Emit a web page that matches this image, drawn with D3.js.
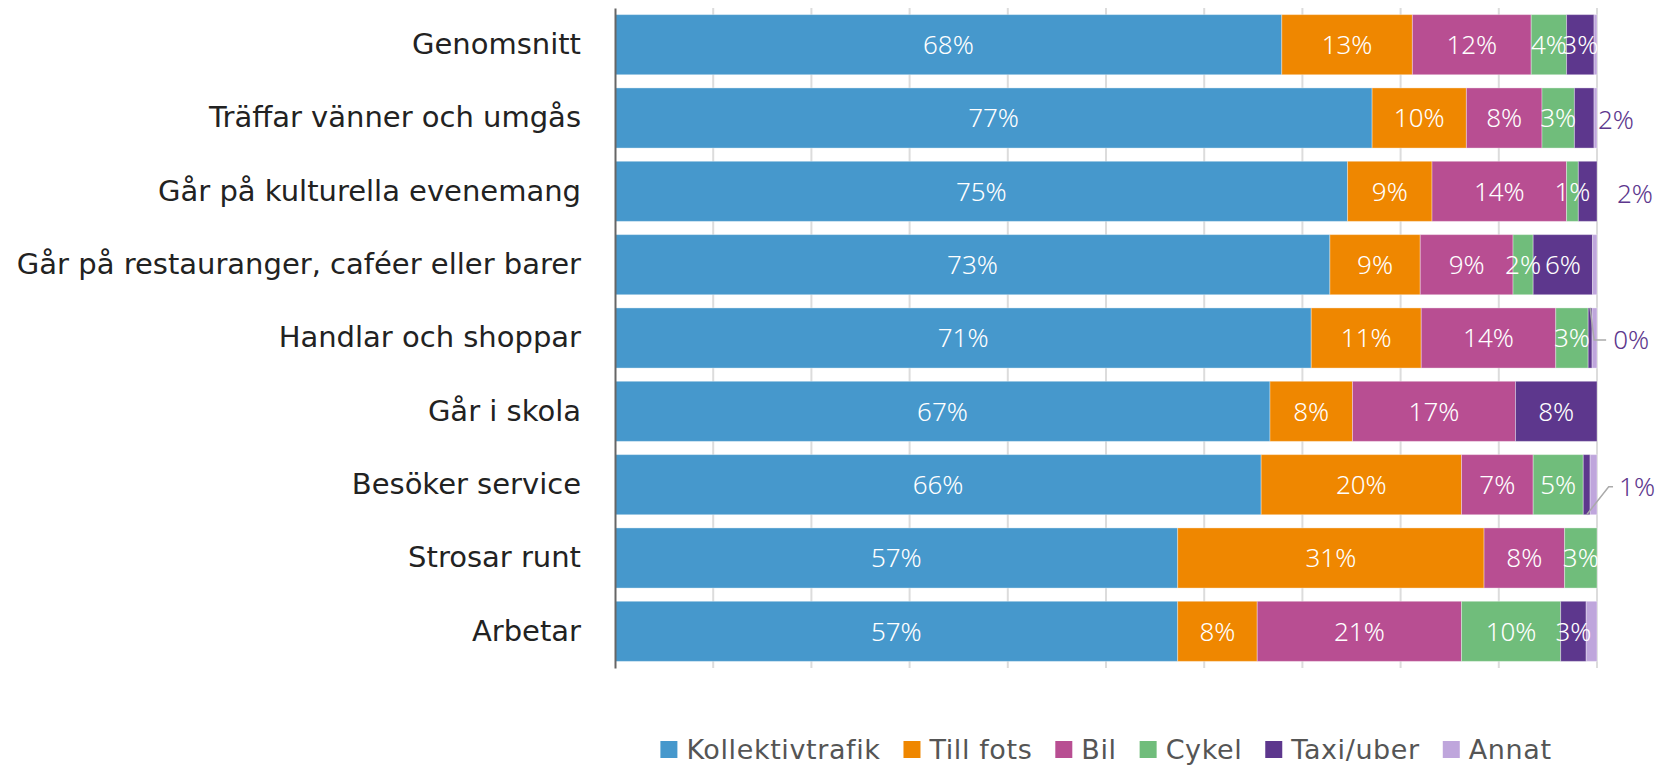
<!DOCTYPE html>
<html>
<head>
<meta charset="utf-8">
<script src="https://cdn.jsdelivr.net/npm/d3@7"></script>
<style>
  body { margin: 0; background: #fff; }
  svg { display: block; font-family: "Noto Sans", sans-serif; }
</style>
</head>
<body>
<svg id="chart" width="1658" height="766"></svg>
<script>
// categories (top to bottom)
var categories = [
  'Genomsnitt',
  'Träffar vänner och umgås',
  'Går på kulturella evenemang',
  'Går på restauranger, caféer eller barer',
  'Handlar och shoppar',
  'Går i skola',
  'Besöker service',
  'Strosar runt',
  'Arbetar'
];
var seriesNames = ['Kollektivtrafik', 'Till fots', 'Bil', 'Cykel', 'Taxi/uber', 'Annat'];
var seriesColors = ['#4698cc', '#ef8700', '#b84e92', '#70bd7b', '#5d378d', '#bfa6dc'];

// percent per category, in category order
var kollektivtrafik = [67.9, 77.1, 74.6, 72.8, 70.9, 66.7, 65.8, 57.3, 57.3];
var tillFots        = [13.3,  9.6,  8.6,  9.2, 11.2,  8.4, 20.4, 31.2,  8.1];
var bil             = [12.1,  7.7, 13.7,  9.45, 13.7, 16.6, 7.3,  8.2, 20.8];
var cykel           = [ 3.6,  3.3,  1.2,  2.05, 3.3,  0,    5.1,  3.3, 10.1];
var taxiUber        = [ 2.8,  2.0,  1.9,  6.05, 0.4,  8.3,  0.7,  0,    2.6];
var annat           = [ 0.3,  0.3,  0,    0.45, 0.5,  0,    0.7,  0,    1.1];

var xTicks = [0, 10, 20, 30, 40, 50, 60, 70, 80, 90, 100];

var seriesValues = [kollektivtrafik, tillFots, bil, cykel, taxiUber, annat];

var rows = categories.map(function(c, i) {
  var r = { category: c };
  seriesNames.forEach(function(s, j) { r[s] = seriesValues[j][i]; });
  return r;
});

var svg = d3.select('#chart');
var mLeft = 615, mRight = 1597, mTop = 8, mBottom = 668;
var wideFont = '"DejaVu Sans", sans-serif';

var x = d3.scaleLinear().domain([0, 100]).range([mLeft, mRight]);
var y = d3.scaleBand().domain(categories).range([mTop, mBottom])
  .paddingInner(0.18).paddingOuter(0.09);
var color = d3.scaleOrdinal().domain(seriesNames).range(seriesColors);

// grid
svg.append('g').selectAll('line').data(xTicks.slice(1)).join('line')
  .attr('x1', function(d) { return x(d); }).attr('x2', function(d) { return x(d); })
  .attr('y1', mTop).attr('y2', mBottom)
  .attr('stroke', '#dcdcdc').attr('stroke-width', 2);

var stacked = d3.stack().keys(seriesNames)(rows);

var layers = svg.append('g').selectAll('g').data(stacked).join('g')
  .attr('fill', function(d) { return color(d.key); });

layers.selectAll('rect').data(function(d) { return d; }).join('rect')
  .attr('x', function(d) { return x(d[0]); })
  .attr('y', function(d) { return y(d.data.category); })
  .attr('width', function(d) { return Math.max(0, x(d[1]) - x(d[0])); })
  .attr('height', y.bandwidth())
  .attr('stroke', 'rgba(255,255,255,0.35)').attr('stroke-width', 1);

// y axis
var yAxis = svg.append('g').attr('transform', 'translate(' + mLeft + ',0)')
  .call(d3.axisLeft(y).tickSize(0).tickPadding(34));
yAxis.select('.domain').attr('stroke', '#666').attr('stroke-width', 2);
yAxis.selectAll('text').attr('font-size', 29).attr('fill', '#222')
  .attr('font-family', wideFont);

// labels inside segments
var labels = [];
stacked.forEach(function(layer) {
  layer.forEach(function(d) {
    var v = d[1] - d[0];
    if (layer.key === 'Annat' || v <= 0) return;
    labels.push({ key: layer.key, cat: d.data.category, v: v, x0: d[0], x1: d[1] });
  });
});

function pct(v) { return Math.round(v) + '%'; }

var inside = labels.filter(function(d) { return !(d.key === 'Taxi/uber' && d.v < 2.5); });
var outside = labels.filter(function(d) { return d.key === 'Taxi/uber' && d.v < 2.5; });

svg.append('g').selectAll('text').data(inside).join('text')
  .attr('x', function(d) { return x((d.x0 + d.x1) / 2); })
  .attr('y', function(d) { return y(d.cat) + y.bandwidth() / 2; })
  .attr('dy', '0.36em')
  .attr('text-anchor', 'middle')
  .attr('fill', '#fff').attr('font-size', 26).attr('font-weight', 300)
  .text(function(d) { return pct(d.v); });

// outside labels: small taxi/uber segments
var callout = svg.append('g');
outside.forEach(function(d) {
  var cy = y(d.cat) + y.bandwidth() / 2;
  var cx = x((d.x0 + d.x1) / 2);
  var t = callout.append('text')
    .attr('y', cy + 2).attr('dy', '0.36em')
    .attr('fill', '#5d378d').attr('font-size', 26).attr('font-weight', 300)
    .text(pct(d.v));
  var w = t.node().getComputedTextLength();
  var tx;
  if (d.v >= 1.5) {
    tx = x(100) + (d.cat === 'Går på kulturella evenemang' ? 20 : 1);
  } else {
    var fromTop = d.cat === 'Handlar och shoppar';
    var ey = cy + 2;
    var sy = fromTop ? y(d.cat) : y(d.cat) + y.bandwidth();
    var ex = fromTop ? cx + 4 : cx + 22;
    var hx = fromTop ? ex + 12 : ex + 10;
    tx = Math.min(hx + 7, 1655 - w);
    hx = Math.min(hx, tx - 6);
    callout.insert('path', 'text')
      .attr('d', d3.line()([[cx, sy], [ex, ey], [hx, ey]]))
      .attr('fill', 'none').attr('stroke', '#aaa').attr('stroke-width', 1.5);
  }
  t.attr('x', tx);
});

// legend
var legend = svg.append('g');
var items = legend.selectAll('g').data(seriesNames).join('g');
items.append('rect').attr('width', 17).attr('height', 17).attr('y', -9)
  .attr('fill', function(d) { return color(d); });
items.append('text').attr('x', 26).attr('dy', '0.34em')
  .attr('font-size', 27).attr('letter-spacing', 0.6)
  .attr('fill', '#555').attr('font-family', wideFont)
  .text(function(d) { return d; });
var pos = 0;
items.each(function(d) {
  var w = d3.select(this).select('text').node().getComputedTextLength();
  d3.select(this).attr('data-off', pos);
  pos += 26 + w + 23;
});
var total = pos - 23;
var startX = (mLeft + mRight) / 2 - total / 2;
items.attr('transform', function() {
  return 'translate(' + (startX + (+this.getAttribute('data-off'))) + ',750)';
});
</script>
</body>
</html>
